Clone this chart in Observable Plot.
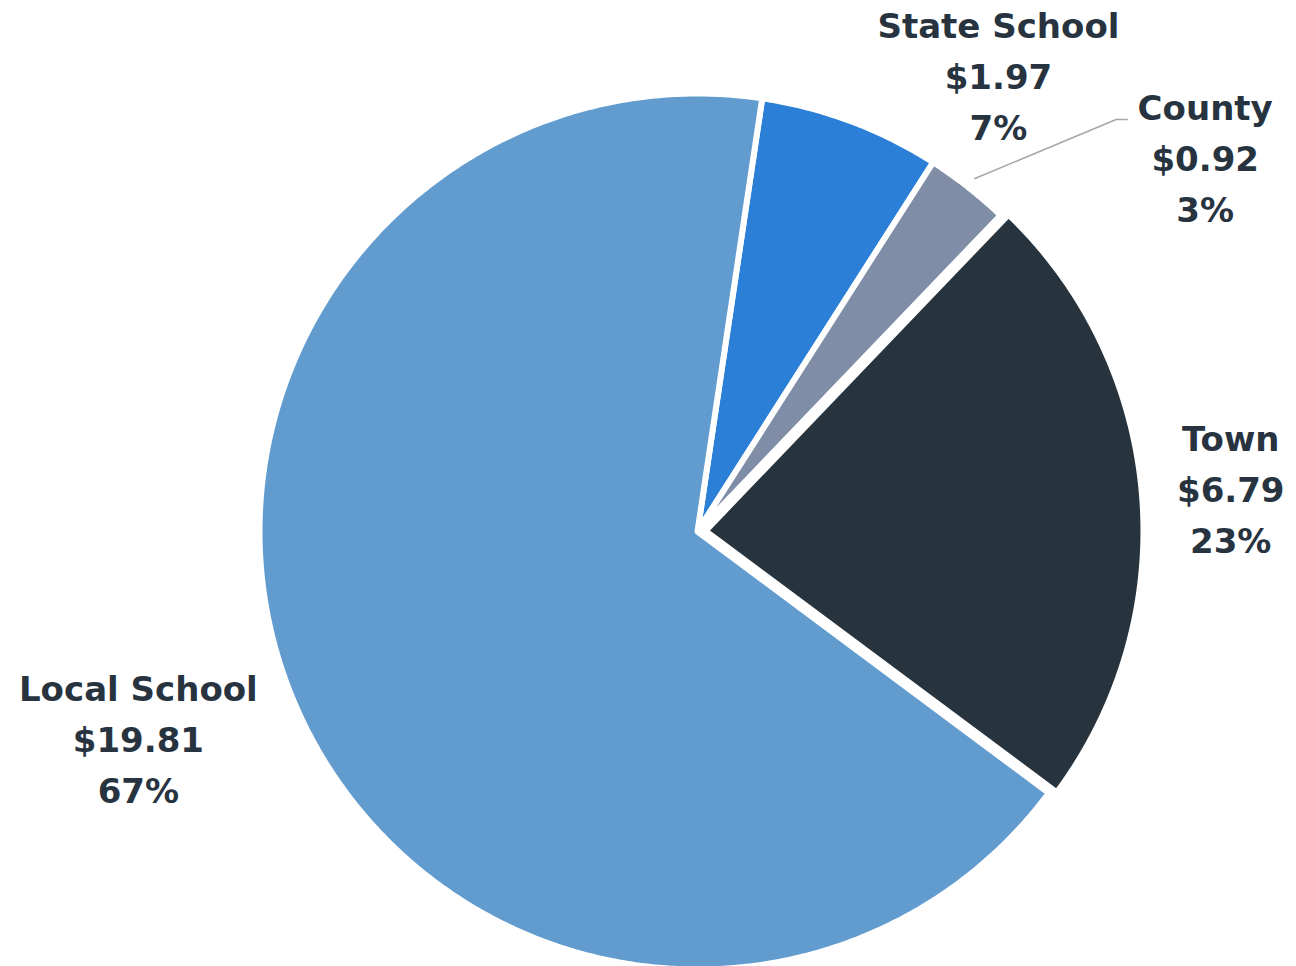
<!DOCTYPE html>
<html><head><meta charset="utf-8">
<script src="https://cdn.jsdelivr.net/npm/d3@7"></script>
<script src="https://cdn.jsdelivr.net/npm/@observablehq/plot@0.6"></script>
<style>body{margin:0;background:#fff}</style>
</head><body><div id="chart"></div>
<script>
// ---- data ----
const categories = ["State School", "County", "Town", "Local School"];
const amounts = [1.97, 0.92, 6.79, 19.81];
const amountLabels = ["$1.97", "$0.92", "$6.79", "$19.81"];
const percentLabels = ["7%", "3%", "23%", "67%"];
const colors = ["#2B7FD6", "#7F8DA7", "#27343E", "#629CCF"];

// ---- layout ----
const W = 1296, H = 966, CX = 697, CY = 531, R = 438;
const deg = Math.PI / 180;
const START = 8.5 * deg;
const explode = {"Town": 8 / R};
// label placement: angle offset (deg) from slice mid-angle, and radius (in pie radii)
const labelPlace = {
  "State School": {dA: 13.0, r: 1.244},
  "County": {dA: 15.6, r: 1.437},
  "Town": {dA: 0.4, r: 1.221},
  "Local School": {dA: 1.9, r: 1.363}
};
const polar = (a, r) => [r * Math.sin(a), -r * Math.cos(a)];

const arcs = d3.pie().sort(null).startAngle(START).endAngle(START + 2 * Math.PI)(amounts);

const slices = arcs.map((a, i) => {
  const mid = (a.startAngle + a.endAngle) / 2;
  const [ox, oy] = polar(mid, explode[categories[i]] || 0);
  const n = Math.max(2, Math.ceil((a.endAngle - a.startAngle) / deg * 2));
  const ring = [[ox, oy]];
  for (let k = 0; k <= n; k++) {
    const t = a.startAngle + (a.endAngle - a.startAngle) * k / n;
    const [x, y] = polar(t, 1);
    ring.push([x + ox, y + oy]);
  }
  ring.push([ox, oy]);
  return {type: "Feature", properties: {name: categories[i]}, geometry: {type: "Polygon", coordinates: [ring]}};
});

const labels = arcs.map((a, i) => {
  const mid = (a.startAngle + a.endAngle) / 2;
  const p = labelPlace[categories[i]];
  const [x, y] = polar(mid + p.dA * deg, p.r);
  return {name: categories[i], x, y, mid, text: `${categories[i]}\n${amountLabels[i]}\n${percentLabels[i]}`};
});

// leader line for County
const county = labels.find(d => d.name === "County");
const leaderStart = polar(county.mid, 1.025);
const leader = {type: "Feature", geometry: {type: "LineString", coordinates: [
  leaderStart,
  [county.x - 89 / R, county.y - 40 / R],
  [county.x - 78 / R, county.y - 40 / R]
]}};

const chart = Plot.plot({
  width: W,
  height: H,
  margin: 0,
  projection: d3.geoIdentity().scale(R).translate([CX, CY]),
  color: {domain: categories, range: colors},
  marks: [
    Plot.geo(slices, {fill: d => d.properties.name, stroke: "white", strokeWidth: 6}),
    Plot.geo([leader], {fill: "none", stroke: "#A6A6A6", strokeWidth: 1.5}),
    Plot.text(labels, {
      x: "x", y: "y", text: "text", dy: -5,
      fontSize: 34, fontWeight: "bold", fontFamily: "DejaVu Sans",
      fill: "#27343F", lineHeight: 1.5, textAnchor: "middle"
    })
  ]
});
document.getElementById("chart").append(chart);
</script>
</body></html>
